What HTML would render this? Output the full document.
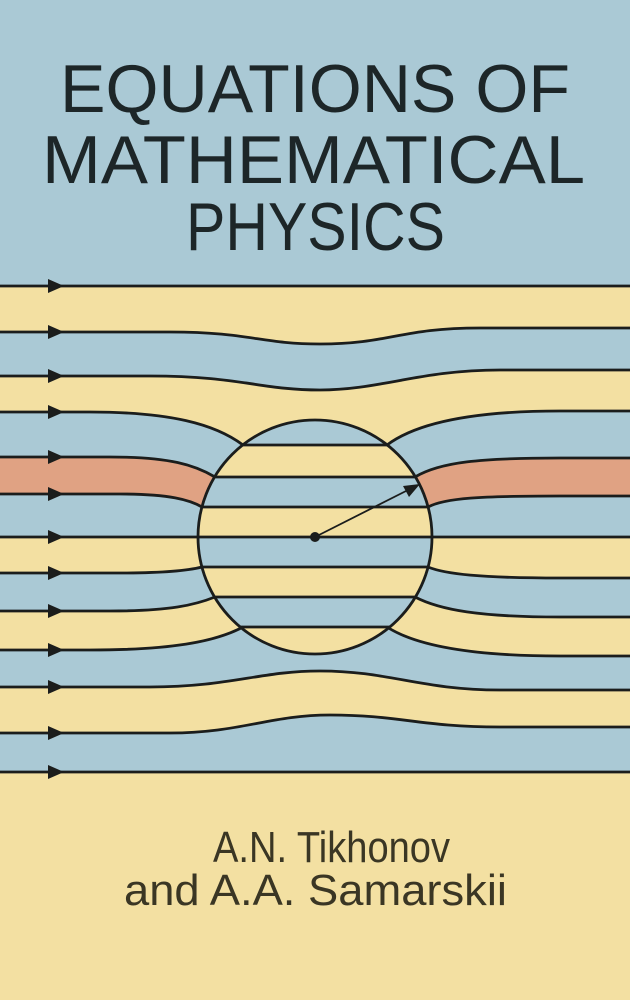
<!DOCTYPE html>
<html><head><meta charset="utf-8"><style>html,body{margin:0;padding:0;}svg{display:block}</style></head>
<body>
<svg width="630" height="1000" viewBox="0 0 630 1000" xmlns="http://www.w3.org/2000/svg">
<defs><clipPath id="cc"><circle cx="315" cy="537" r="117"/></clipPath></defs>
<rect width="630" height="1000" fill="#aac9d5"/>
<g>
<path fill="#f3e0a2" d="M0 286 L630 286 L630 1000 L0 1000 Z"/>
<path fill="#aac9d5" d="M0 332 L170 332 C250 332 260 344 320 344 C390 344 400 328 480 328 L630 328 L630 1000 L0 1000 Z"/>
<path fill="#f3e0a2" d="M0 376 L150 376 C240 376 260 390 320 390 C380 390 420 370 500 370 L630 370 L630 1000 L0 1000 Z"/>
<path fill="#aac9d5" d="M0 412 L90 412 C170 412 215 424 243 445 A118 118 0 0 1 387 445 C415 424 470 411 560 411 L630 411 L630 1000 L0 1000 Z"/>
<path fill="#e0a283" d="M0 457 L110 457 C170 457 195 465 215 477 A118 118 0 0 1 415 477 C440 462 480 458 560 458 L630 458 L630 1000 L0 1000 Z"/>
<path fill="#aac9d5" d="M0 494 L120 494 C170 494 190 500 202 507 A118 118 0 0 1 428 507 C445 498 480 496 560 496 L630 496 L630 1000 L0 1000 Z"/>
<path fill="#f3e0a2" d="M0 537 L630 537 L630 1000 L0 1000 Z"/>
<path fill="#aac9d5" d="M0 573 L120 573 C170 573 190 570 202 567 A118 118 0 0 0 428 567 C445 574 480 578 560 578 L630 578 L630 1000 L0 1000 Z"/>
<path fill="#f3e0a2" d="M0 611 L110 611 C170 611 195 605 215 597 A118 118 0 0 0 415 597 C440 610 480 617 560 617 L630 617 L630 1000 L0 1000 Z"/>
<path fill="#aac9d5" d="M0 650 L90 650 C170 650 215 642 243 627 A118 118 0 0 0 387 627 C415 645 470 656 560 656 L630 656 L630 1000 L0 1000 Z"/>
<path fill="#f3e0a2" d="M0 687 L150 687 C230 687 260 671 320 671 C390 671 420 690 500 690 L630 690 L630 1000 L0 1000 Z"/>
<path fill="#aac9d5" d="M0 733 L170 733 C240 733 270 715 330 715 C400 715 420 727 500 727 L630 727 L630 1000 L0 1000 Z"/>
<path fill="#f3e0a2" d="M0 772 L630 772 L630 1000 L0 1000 Z"/>
</g>
<g clip-path="url(#cc)">
<rect x="190" y="410" width="260" height="35" fill="#aac9d5"/>
<rect x="190" y="445" width="260" height="32" fill="#f3e0a2"/>
<rect x="190" y="477" width="260" height="30" fill="#aac9d5"/>
<rect x="190" y="507" width="260" height="30" fill="#f3e0a2"/>
<rect x="190" y="537" width="260" height="30" fill="#aac9d5"/>
<rect x="190" y="567" width="260" height="30" fill="#f3e0a2"/>
<rect x="190" y="597" width="260" height="30" fill="#aac9d5"/>
<rect x="190" y="627" width="260" height="40" fill="#f3e0a2"/>
<g stroke="#1b1d1c" stroke-width="2.8">
<line x1="190" y1="445" x2="450" y2="445"/>
<line x1="190" y1="477" x2="450" y2="477"/>
<line x1="190" y1="507" x2="450" y2="507"/>
<line x1="190" y1="567" x2="450" y2="567"/>
<line x1="190" y1="597" x2="450" y2="597"/>
<line x1="190" y1="627" x2="450" y2="627"/>
</g>
</g>
<g fill="none" stroke="#1b1d1c" stroke-width="2.8">
<path d="M0 286 L630 286"/>
<path d="M0 332 L170 332 C250 332 260 344 320 344 C390 344 400 328 480 328 L630 328"/>
<path d="M0 376 L150 376 C240 376 260 390 320 390 C380 390 420 370 500 370 L630 370"/>
<path d="M0 412 L90 412 C170 412 215 424 243 445"/>
<path d="M387 445 C415 424 470 411 560 411 L630 411"/>
<path d="M0 457 L110 457 C170 457 195 465 215 477"/>
<path d="M415 477 C440 462 480 458 560 458 L630 458"/>
<path d="M0 494 L120 494 C170 494 190 500 202 507"/>
<path d="M428 507 C445 498 480 496 560 496 L630 496"/>
<path d="M0 537 L630 537"/>
<path d="M0 573 L120 573 C170 573 190 570 202 567"/>
<path d="M428 567 C445 574 480 578 560 578 L630 578"/>
<path d="M0 611 L110 611 C170 611 195 605 215 597"/>
<path d="M415 597 C440 610 480 617 560 617 L630 617"/>
<path d="M0 650 L90 650 C170 650 215 642 243 627"/>
<path d="M387 627 C415 645 470 656 560 656 L630 656"/>
<path d="M0 687 L150 687 C230 687 260 671 320 671 C390 671 420 690 500 690 L630 690"/>
<path d="M0 733 L170 733 C240 733 270 715 330 715 C400 715 420 727 500 727 L630 727"/>
<path d="M0 772 L630 772"/>
<circle cx="315" cy="537" r="117"/>
</g>
<g fill="#1b1d1c">
<path d="M48 279 L64 286 L48 293 Z"/>
<path d="M48 325 L64 332 L48 339 Z"/>
<path d="M48 369 L64 376 L48 383 Z"/>
<path d="M48 405 L64 412 L48 419 Z"/>
<path d="M48 450 L64 457 L48 464 Z"/>
<path d="M48 487 L64 494 L48 501 Z"/>
<path d="M48 530 L64 537 L48 544 Z"/>
<path d="M48 566 L64 573 L48 580 Z"/>
<path d="M48 604 L64 611 L48 618 Z"/>
<path d="M48 643 L64 650 L48 657 Z"/>
<path d="M48 680 L64 687 L48 694 Z"/>
<path d="M48 726 L64 733 L48 740 Z"/>
<path d="M48 765 L64 772 L48 779 Z"/>
<circle cx="315" cy="537" r="5"/>
<path d="M420 484 L403 486 L409 497 Z"/>
</g>
<line x1="315" y1="537" x2="408" y2="490" stroke="#1b1d1c" stroke-width="1.8"/>
<g font-family="Liberation Sans, sans-serif" fill="#1d2628" font-size="68">
<text x="60" y="112" textLength="510" lengthAdjust="spacingAndGlyphs">EQUATIONS OF</text>
<text x="42" y="183" textLength="543" lengthAdjust="spacingAndGlyphs">MATHEMATICAL</text>
<text x="186" y="250" textLength="259" lengthAdjust="spacingAndGlyphs">PHYSICS</text>
</g>
<g font-family="Liberation Sans, sans-serif" fill="#3a3624" font-size="44">
<text x="213" y="862" textLength="237" lengthAdjust="spacingAndGlyphs">A.N. Tikhonov</text>
<text x="124" y="905" textLength="383" lengthAdjust="spacingAndGlyphs">and A.A. Samarskii</text>
</g>
</svg>
</body></html>
